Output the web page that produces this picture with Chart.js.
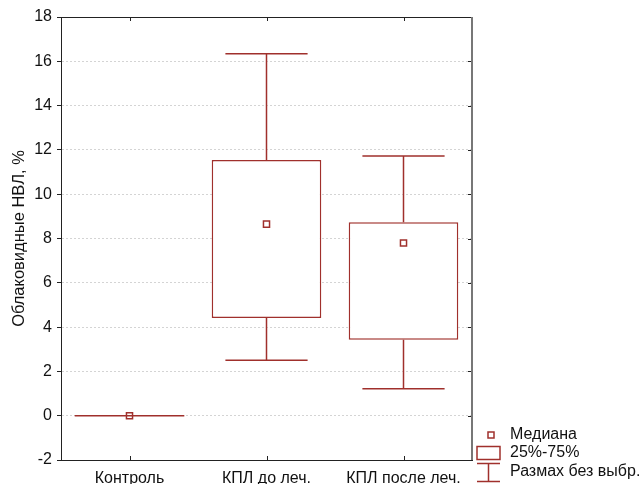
<!DOCTYPE html>
<html>
<head>
<meta charset="utf-8">
<script src="https://cdn.jsdelivr.net/npm/chart.js@4.4.1/dist/chart.umd.min.js"></script>
<style>
  html, body { margin: 0; padding: 0; background: #fff; }
  #wrap { width: 643px; height: 484px; position: relative; }
</style>
</head>
<body>
<div id="wrap"><canvas id="box-chart" width="643" height="484"></canvas></div>
<script>
const categories = ["Контроль", "КПЛ до леч.", "КПЛ после леч."];
const minValues = [0, 2.5, 1.22];
const q1Values = [0, 4.41, 3.43];
const medianValues = [0, 8.65, 7.8];
const q3Values = [0, 11.54, 8.73];
const maxValues = [0, 16.34, 11.72];
const yTicks = [-2, 0, 2, 4, 6, 8, 10, 12, 14, 16, 18];
const legendLabels = ["Медиана", "25%-75%", "Размах без выбр."];

const RED = "#a0302c";
const FONT = "'Liberation Sans', Arial, sans-serif";

// whiskers, flat boxes, frame and inner ticks
const boxExtras = {
  id: "boxExtras",
  afterDatasetsDraw(chart) {
    const ctx = chart.ctx;
    const x = chart.scales.x;
    const y = chart.scales.y;
    const meta = chart.getDatasetMeta(0);

    ctx.save();
    ctx.strokeStyle = RED;
    ctx.lineWidth = 1.5;
    categories.forEach((c, i) => {
      const cx = x.getPixelForValue(i);
      const half = x.width / categories.length * 0.3;
      const yMin = y.getPixelForValue(minValues[i]);
      const yMax = y.getPixelForValue(maxValues[i]);
      const yQ1 = y.getPixelForValue(q1Values[i]);
      const yQ3 = y.getPixelForValue(q3Values[i]);
      ctx.beginPath();
      ctx.moveTo(cx, yMax); ctx.lineTo(cx, yQ3);
      ctx.moveTo(cx, yQ1); ctx.lineTo(cx, yMin);
      if (maxValues[i] !== q3Values[i]) { ctx.moveTo(cx - half, yMax); ctx.lineTo(cx + half, yMax); }
      if (minValues[i] !== q1Values[i]) { ctx.moveTo(cx - half, yMin); ctx.lineTo(cx + half, yMin); }
      ctx.stroke();
      if (q1Values[i] === q3Values[i]) {
        const bar = meta.data[i];
        ctx.beginPath();
        ctx.moveTo(bar.x - bar.width / 2, yQ1);
        ctx.lineTo(bar.x + bar.width / 2, yQ1);
        ctx.stroke();
      }
    });
    ctx.restore();
  },
  afterDraw(chart) {
    const ctx = chart.ctx;
    const x = chart.scales.x;
    const y = chart.scales.y;
    const a = chart.chartArea;

    ctx.save();
    ctx.strokeStyle = "#222";
    ctx.lineWidth = 1;
    ctx.beginPath();
    ctx.moveTo(a.left, a.top + 0.5); ctx.lineTo(a.right, a.top + 0.5);
    categories.forEach((c, i) => {
      const cx = Math.round(x.getPixelForValue(i)) + 0.5;
      ctx.moveTo(cx, a.top); ctx.lineTo(cx, a.top + 4);
      ctx.moveTo(cx, a.bottom); ctx.lineTo(cx, a.bottom - 4);
    });
    yTicks.forEach((v) => {
      const py = Math.round(y.getPixelForValue(v)) + 0.5;
      ctx.moveTo(a.right, py); ctx.lineTo(a.right - 4, py);
    });
    ctx.stroke();
    ctx.strokeStyle = "#777";
    ctx.lineWidth = 2;
    ctx.beginPath();
    ctx.moveTo(a.right, a.top); ctx.lineTo(a.right, a.bottom);
    ctx.stroke();

    // legend
    const lx = 477, tx = 510;
    ctx.strokeStyle = RED;
    ctx.lineWidth = 1.5;
    ctx.fillStyle = "#fff";
    ctx.fillRect(488, 432, 6, 6);
    ctx.strokeRect(488, 432, 6, 6);
    ctx.strokeRect(lx, 446.5, 23, 13);
    ctx.beginPath();
    ctx.moveTo(lx, 463.5); ctx.lineTo(lx + 23, 463.5);
    ctx.moveTo(lx + 11.5, 463.5); ctx.lineTo(lx + 11.5, 481.5);
    ctx.moveTo(lx, 481.5); ctx.lineTo(lx + 23, 481.5);
    ctx.stroke();
    ctx.fillStyle = "#111";
    ctx.font = "16px " + FONT;
    ctx.textBaseline = "middle";
    ctx.textAlign = "left";
    ctx.fillText(legendLabels[0], tx, 435);
    ctx.fillText(legendLabels[1], tx, 453);
    ctx.fillText(legendLabels[2], tx, 472);
    ctx.restore();
  }
};

new Chart(document.getElementById("box-chart"), {
  type: "bar",
  data: {
    labels: categories,
    datasets: [
      {
        label: "25%-75%",
        data: q1Values.map((v, i) => [v, q3Values[i]]),
        backgroundColor: "#ffffff",
        borderColor: RED,
        borderWidth: 1.5,
        borderSkipped: false,
        barPercentage: 0.8,
        categoryPercentage: 1,
        order: 2
      },
      {
        type: "line",
        label: "Медиана",
        data: medianValues,
        showLine: false,
        pointStyle: "rect",
        pointRadius: 4.3,
        pointBackgroundColor: "#ffffff",
        pointBorderColor: RED,
        pointBorderWidth: 1.5,
        order: 1
      }
    ]
  },
  options: {
    responsive: false,
    animation: false,
    layout: { padding: { top: 17, right: 171, left: 0, bottom: 0 } },
    plugins: {
      legend: { display: false },
      tooltip: { enabled: false }
    },
    scales: {
      x: {
        grid: { display: false },
        border: { color: "#222", width: 1 },
        ticks: { color: "#111", font: { family: FONT, size: 16 }, padding: 1 },
        afterFit(scale) { scale.height = 24; }
      },
      y: {
        min: -2,
        max: 18,
        afterBuildTicks(scale) { scale.ticks = yTicks.map((v) => ({ value: v })); },
        grid: { color: "#d4d4d4", tickColor: "#222", tickLength: 4, lineWidth: 1 },
        border: { color: "#222", width: 1, dash: [2, 2] },
        ticks: { color: "#111", font: { family: FONT, size: 16 }, padding: 5 },
        title: {
          display: true,
          text: "Облаковидные НВЛ, %",
          color: "#111",
          font: { family: FONT, size: 16.5 },
          padding: { top: 10, bottom: 0 }
        },
        afterFit(scale) { scale.width = 61; }
      }
    }
  },
  plugins: [boxExtras]
});
</script>
</body>
</html>
